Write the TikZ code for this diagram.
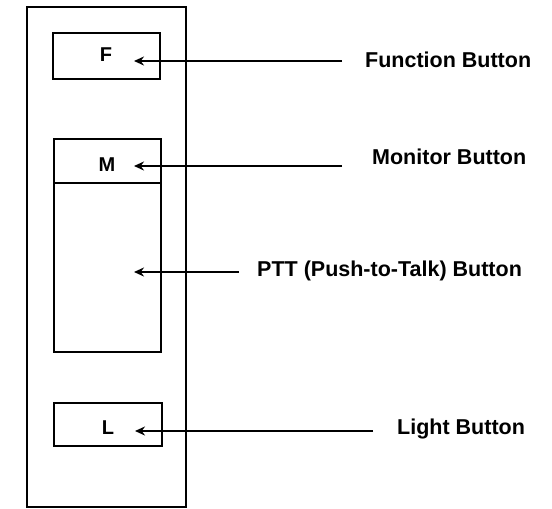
\documentclass[tikz,border=0pt]{standalone}
\usepackage{fontspec}
\setmainfont{Liberation Sans}
\usetikzlibrary{arrows.meta}
\begin{document}
\begin{tikzpicture}[x=1pt,y=-1pt,
  box/.style={draw,line width=2.8pt,inner sep=0pt},
  lbl/.style={anchor=west,inner sep=0pt,font=\fontsize{21.5}{24}\selectfont\bfseries},
  key/.style={inner sep=0pt,font=\fontsize{20}{22}\selectfont\bfseries},
  ptr/.style={line width=2.8pt,-{Stealth[length=10pt,width=9pt]}}]
\useasboundingbox (0,0) rectangle (552,509);
\draw[line width=2.8pt] (27,7) rectangle (186,507);
\draw[box] (53,33) rectangle (160,79);
\draw[box] (54,139) rectangle (161,183);
\draw[box] (54,183) rectangle (161,352);
\draw[box] (54,403) rectangle (162,446);
\node[key] (F) at (106,55) {F};
\node[key] (M) at (107,165) {M};
\node[key] (L) at (108,428) {L};
\coordinate (fT) at (134,61);
\coordinate (mT) at (134,166);
\coordinate (pT) at (134,272);
\coordinate (lT) at (135,431);
\coordinate (fE) at (342,61);
\coordinate (mE) at (342,166);
\coordinate (pE) at (239,272);
\coordinate (lE) at (373,431);
\node[lbl] (fl) at (365,60) {Function Button};
\node[lbl] (ml) at (372,157) {Monitor Button};
\node[lbl] (pl) at (257,271) {PTT (Push-to-Talk) Button};
\node[lbl] (ll) at (397,429) {Light Button};
\draw[ptr] (fE) -- (fT);
\draw[ptr] (mE) -- (mT);
\draw[ptr] (pE) -- (pT);
\draw[ptr] (lE) -- (lT);
\end{tikzpicture}
\end{document}
